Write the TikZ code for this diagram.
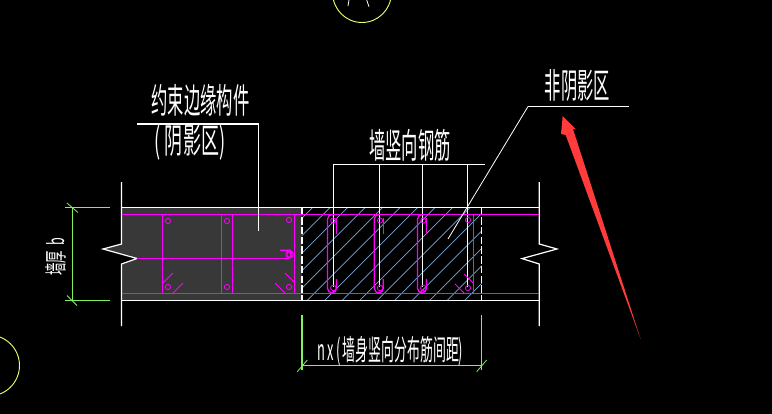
\documentclass[tikz,border=0pt]{standalone}
\usepackage{fontspec}
\setmainfont{Noto Sans CJK SC}
\definecolor{cgreen}{HTML}{80F060}
\definecolor{cmag}{HTML}{FF00FF}
\definecolor{cdark}{HTML}{383838}
\definecolor{chatch}{HTML}{7AA6D8}
\definecolor{cyel}{HTML}{E6FF70}
\definecolor{cred}{HTML}{FF3B3B}
\newcommand{\cadtext}[3]{\scalebox{#1}[1]{\fontsize{#2}{#2}\selectfont #3}}
\tikzset{
  px/.style={x=0.75pt,y=-0.75pt},
  wline/.style={draw=white,line width=0.9pt},
  thinw/.style={draw=white,line width=0.6pt},
  dim/.style={draw=cgreen,line width=0.85pt},
  rebar/.style={draw=cmag,line width=0.95pt},
  rebarthin/.style={draw=cmag,line width=0.6pt},
  hatchl/.style={draw=chatch,line width=0.5pt},
  cadlabel/.style={text=white,inner sep=0pt,outer sep=0pt},
  ring/.style={draw=cmag,line width=0.6pt,fill=none},
  axisc/.style={draw=cyel,line width=0.7pt}
}
\begin{document}
\begin{tikzpicture}[px]
\useasboundingbox (0,0) rectangle (772,414);
\fill[black] (0,0) rectangle (772,414);
% axis bubbles
\begin{scope}
\clip (0,0) rectangle (772,414);
\draw[axisc] (362,-6.8) circle [radius=29.3];
\draw[axisc] (-11,365.5) circle [radius=30.5];
\draw[thinw] (349,0) -- (348,6);
\draw[thinw] (366.7,0) -- (369,6.7);
\end{scope}
% shaded zone
\fill[cdark] (121.5,207.5) -- (302,207.5) -- (302,300) -- (121.5,300) -- (121.5,264) -- (137,258.5) -- (103,249) -- (121.5,244) -- cycle;
% hatching
\begin{scope}
\clip (302,207.5) rectangle (482,300);
\foreach \k in {-6,...,10} {
  \draw[hatchl] ({302},{607.6+17.5*\k-302}) -- ({482},{607.6+17.5*\k-482});
}
\end{scope}
% wall outline
\draw[wline] (121.5,207.5) -- (539.3,207.5);
\draw[wline] (121.5,300.3) -- (539.3,300.3);
\draw[wline] (121.5,182) -- (121.5,244) -- (103,249) -- (137,258.5) -- (121.5,264) -- (121.5,326);
\draw[wline] (539.3,182) -- (539.3,244) -- (557,249) -- (522,258.6) -- (539.3,264) -- (539.3,326);
\draw[wline,dashed,dash pattern=on 5.5pt off 1.8pt] (302,207.5) -- (302,300.3);
\draw[wline,dashed,dash pattern=on 5.5pt off 1.8pt] (481.7,207.5) -- (481.7,300.3);
% leaders to bars
\coordinate (brA) at (333.3,164.5);
\coordinate (brB) at (379.3,164.5);
\coordinate (brC) at (422.7,164.5);
\coordinate (brD) at (467.7,164.5);
\coordinate (brE) at (485,164.5);
\draw[wline] (brA) -- (brE);
\draw[wline] (brA) -- (333.3,287);
\draw[wline] (brB) -- (379.3,287);
\draw[wline] (brC) -- (422.7,287);
\draw[thinw] (brD) -- (467.7,287);
% magenta bars
\draw[rebar] (121.5,214.3) -- (539.3,214.3);
\draw[rebar] (121.5,293.3) -- (539.3,293.3);
\draw[rebar] (137,258.3) -- (290,258.3);
\foreach \x in {162.7,221.7,232.7,294.3} \draw[rebar] (\x,214.3) -- (\x,293.3);
\draw[rebar] (280,250.3) -- (290.5,250.3) -- (291,258);
\draw[rebarthin] (163,283) -- (173,273);
\draw[rebarthin] (173,293) -- (183,283);
\draw[rebarthin] (285,273) -- (294,282);
\draw[rebarthin] (275,283) -- (285,293);
\foreach \x/\y in {168/221,227/221,289/220,168/287,227/287,289/287,289.5/254.5,468/220,468/288}
  \draw[ring] (\x,\y) circle [radius=2.6];
\draw[ring] (289.5,254.5) circle [radius=3.8];
% stirrups in the wall body
\foreach \x in {327.5,374.3,417.5} {
  \draw[rebar,rounded corners=3.5pt] ({\x+6},214.5) -- (\x,214.5) -- (\x,293) -- ({\x+9},293) -- ({\x+9},279);
  \draw[rebarthin] ({\x+9},218) -- ({\x+9},234);
  \draw[ring] ({\x+5.8},220.5) circle [radius=2.6];
  \draw[ring] ({\x+5.8},288) circle [radius=2.8];
}
\draw[rebar] (473.3,214.3) -- (473.3,293.3);
\draw[rebarthin] (455,284) -- (464,293);
\draw[rebarthin] (464.3,274) -- (473.3,283);
% dimensions
\draw[dim] (65,207.5) -- (110,207.5);
\draw[dim] (65,300.3) -- (110,300.3);
\draw[dim] (72.5,207.5) -- (72.5,300.3);
\draw[dim,line width=0.6pt] (67,203) -- (78,212.5);
\draw[dim,line width=0.6pt] (67,295.5) -- (77,305.5);
\draw[dim] (302,315) -- (302,370);
\draw[dim] (481.7,315) -- (481.7,370);
\draw[dim] (302,365.7) -- (481.7,365.7);
\draw[dim,line width=0.6pt] (297.3,371.7) -- (307.3,360);
\draw[dim,line width=0.6pt] (476.7,371.7) -- (486.7,360);
% callout leaders
\coordinate (lA) at (137,124);
\coordinate (lB) at (258.5,124);
\coordinate (lC) at (258.5,230.7);
\draw[wline] (lA) -- (lB) -- (lC);
\coordinate (lD) at (629,106.5);
\coordinate (lE) at (528,106.5);
\coordinate (lF) at (448,239);
\draw[wline] (lD) -- (lE);
\draw[thinw] (lE) -- (lF);
% labels
\node[cadlabel] (t1) at (200.5,100) {\cadtext{0.47}{26}{约束边缘构件}};
\node[cadlabel] (t2) at (190,143) {\cadtext{0.52}{26}{( 阴影区)}};
\node[cadlabel] (t3) at (410,145) {\cadtext{0.47}{26}{墙竖向钢筋}};
\node[cadlabel] (t4) at (577.5,86) {\cadtext{0.47}{26}{非阴影区}};
\node[cadlabel] (t5) at (390.5,351) {\cadtext{0.45}{21.5}{n\,x\,(\,墙身竖向分布筋间距)}};
\node[cadlabel,rotate=90] (t6) at (56,256.5) {\cadtext{0.55}{17}{墙厚\ \ b}};
% red arrow
\fill[cred] (562.7,116) -- (576,129.3) -- (573,129) -- (640.7,339.3) -- (565.7,135) -- (561,134) -- cycle;
\end{tikzpicture}
\end{document}
